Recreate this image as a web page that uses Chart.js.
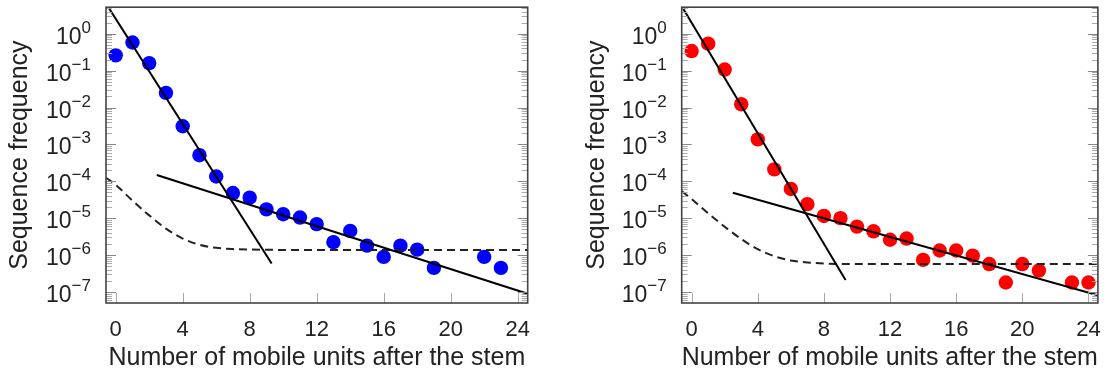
<!DOCTYPE html>
<html><head><meta charset="utf-8">
<script src="https://cdn.jsdelivr.net/npm/chart.js@4/dist/chart.umd.min.js"></script>
<style>
html,body{margin:0;padding:0;background:#fff;overflow:hidden}
#wrap{position:relative;width:1115px;height:385px}
canvas{position:absolute;top:0}
</style></head><body>
<div id="wrap">
<canvas id="c1" width="557" height="385" style="left:0"></canvas>
<canvas id="c2" width="558" height="385" style="left:557px"></canvas>
</div>
<script>
// ---- text & ticks ----
const xLabel = 'Number of mobile units after the stem';
const yLabel = 'Sequence frequency';
const xTickValues = [0, 4, 8, 12, 16, 20, 24];
const yDecadeExponents = [0, -1, -2, -3, -4, -5, -6, -7];

// ---- left panel (blue) ----
const blueX = [0,1,2,3,4,5,6,7,8,9,10,11,12,13,14,15,16,17,18,19,22,23];
const blueY = [0.26,0.58,0.16,0.025,0.0031,5.1e-4,1.35e-4,4.8e-5,3.6e-5,1.73e-5,1.28e-5,1.04e-5,6.9e-6,2.24e-6,4.5e-6,1.8e-6,8.9e-7,1.8e-6,1.4e-6,4.5e-7,8.9e-7,4.5e-7];
const leftSteepX = [-0.58, 9.31];
const leftSteepY = [6.6, 5.9e-7];
const leftShallowX = [2.45, 24.6];
const leftShallowY = [1.48e-4, 8.9e-8];
const leftDashX = [-0.58, 0, 1, 2, 3, 4, 5, 6, 7, 8, 10, 24.6];
const leftDashY = [1.25e-4, 8.0e-5, 3.0e-5, 1.19e-5, 5.2e-6, 2.8e-6, 1.9e-6, 1.57e-6, 1.45e-6, 1.41e-6, 1.38e-6, 1.38e-6];

// ---- right panel (red) ----
const redX = [0,1,2,3,4,5,6,7,8,9,10,11,12,13,14,15,16,17,18,19,20,21,23,24];
const redY = [0.34,0.54,0.107,0.0123,1.37e-3,2.1e-4,6.2e-5,2.4e-5,1.15e-5,1.0e-5,5.9e-6,4.4e-6,2.6e-6,2.8e-6,7.4e-7,1.33e-6,1.33e-6,9.6e-7,5.7e-7,1.8e-7,5.7e-7,3.8e-7,1.8e-7,1.8e-7];
const rightSteepX = [-0.6, 9.31];
const rightSteepY = [5.6, 2.1e-7];
const rightShallowX = [2.49, 24.57];
const rightShallowY = [4.9e-5, 8.1e-8];
const rightDashX = [-0.6, 0, 1, 2, 3, 4, 5, 6, 7, 8, 10, 24.57];
const rightDashY = [5.4e-5, 3.3e-5, 1.36e-5, 5.85e-6, 2.72e-6, 1.44e-6, 9.3e-7, 7.1e-7, 6.3e-7, 5.9e-7, 5.7e-7, 5.7e-7];

const FONT = "'Liberation Sans', Arial, Helvetica, sans-serif";
Chart.defaults.font.family = FONT;
Chart.defaults.color = '#222';

const pts = (xs, ys) => xs.map((x, i) => ({x, y: ys[i]}));

const framePlugin = {
  id: 'frame',
  afterDraw(chart) {
    const ctx = chart.ctx, a = chart.chartArea;
    const xs = chart.scales.x, ys = chart.scales.y;
    ctx.save();
    ctx.lineWidth = 1;
    for (let n = -8; n <= 1; n++) {
      for (let m = 1; m <= 9; m++) {
        const v = m * Math.pow(10, n);
        if (v < ys.min || v > ys.max) continue;
        const py = Math.round(ys.getPixelForValue(v)) + 0.5;
        const len = m === 1 ? 10 : 6;
        ctx.strokeStyle = m === 1 ? '#888' : '#aaa';
        ctx.beginPath();
        ctx.moveTo(a.left, py); ctx.lineTo(a.left + len, py);
        ctx.moveTo(a.right, py); ctx.lineTo(a.right - len, py);
        ctx.stroke();
      }
    }
    ctx.strokeStyle = '#aaa';
    xTickValues.forEach(v => {
      const px = Math.round(xs.getPixelForValue(v)) + 0.5;
      ctx.beginPath(); ctx.moveTo(px, a.bottom); ctx.lineTo(px, a.bottom - 10); ctx.stroke();
    });
    ctx.strokeStyle = '#444';
    ctx.lineWidth = 1.6;
    ctx.strokeRect(a.left, a.top, a.right - a.left, a.bottom - a.top);
    ctx.fillStyle = '#222';
    ctx.textBaseline = 'alphabetic';
    ctx.textAlign = 'left';
    yDecadeExponents.forEach(e => {
      const py = ys.getPixelForValue(Math.pow(10, e));
      const expTxt = e === 0 ? '0' : '\u2212' + Math.abs(e);
      ctx.font = '17px ' + FONT;
      const ew = ctx.measureText(expTxt).width;
      ctx.font = '23px ' + FONT;
      const bw = ctx.measureText('10').width;
      const xr = a.left - 15;
      const base = py + 10;
      ctx.fillText('10', xr - ew - bw, base);
      ctx.font = '17px ' + FONT;
      ctx.fillText(expTxt, xr - ew, base - 11);
    });
    ctx.restore();
  }
};

function makeChart(id, cfg) {
  const lineDs = (xs, ys, dash) => ({
    type: 'line', data: pts(xs, ys), borderColor: dash ? '#222' : '#000',
    borderWidth: 2, borderDash: dash ? [8, 5] : [], pointRadius: 0,
    fill: false, cubicInterpolationMode: dash ? 'monotone' : 'default', tension: 0
  });
  return new Chart(document.getElementById(id), {
    type: 'scatter',
    data: {
      datasets: [
        lineDs(cfg.steepX, cfg.steepY, false),
        lineDs(cfg.shallowX, cfg.shallowY, false),
        lineDs(cfg.dashX, cfg.dashY, true),
        { type: 'scatter', data: pts(cfg.px, cfg.py), backgroundColor: cfg.color,
          borderWidth: 0, pointRadius: 7.2, pointHoverRadius: 7.2 }
      ]
    },
    options: {
      responsive: false, animation: false, devicePixelRatio: 1,
      plugins: { legend: { display: false }, tooltip: { enabled: false } },
      layout: { padding: { left: 0, top: 7, right: cfg.padRight, bottom: 0 } },
      scales: {
        x: {
          type: 'linear', min: cfg.xmin, max: cfg.xmax,
          afterBuildTicks: s => { s.ticks = xTickValues.map(v => ({ value: v })); },
          afterFit: s => { s.height = 82; },
          ticks: { font: { size: 22 }, color: '#222', padding: 14, autoSkip: false, maxRotation: 0 },
          grid: { display: false, drawTicks: false },
          border: { display: false },
          title: { display: true, text: xLabel, font: { size: 25 }, color: '#222', padding: { top: 0, bottom: 12 } }
        },
        y: {
          type: 'logarithmic', min: Math.pow(10, -7.3), max: Math.pow(10, 0.72),
          afterFit: s => { s.width = cfg.yWidth; },
          ticks: { display: false },
          grid: { display: false, drawTicks: false },
          border: { display: false },
          title: { display: true, text: yLabel, font: { size: 25 }, color: '#222', padding: { top: cfg.yTitlePad, bottom: 0 } }
        }
      }
    },
    plugins: [framePlugin]
  });
}

makeChart('c1', { px: blueX, py: blueY, color: '#0000ff',
  steepX: leftSteepX, steepY: leftSteepY, shallowX: leftShallowX, shallowY: leftShallowY,
  dashX: leftDashX, dashY: leftDashY, xmin: -0.58, xmax: 24.6, padRight: 29.3, yWidth: 106, yTitlePad: 5 });
makeChart('c2', { px: redX, py: redY, color: '#ff0000',
  steepX: rightSteepX, steepY: rightSteepY, shallowX: rightShallowX, shallowY: rightShallowY,
  dashX: rightDashX, dashY: rightDashY, xmin: -0.6, xmax: 24.57, padRight: 12.7, yWidth: 124.7, yTitlePad: 25 });
</script>
</body></html>
